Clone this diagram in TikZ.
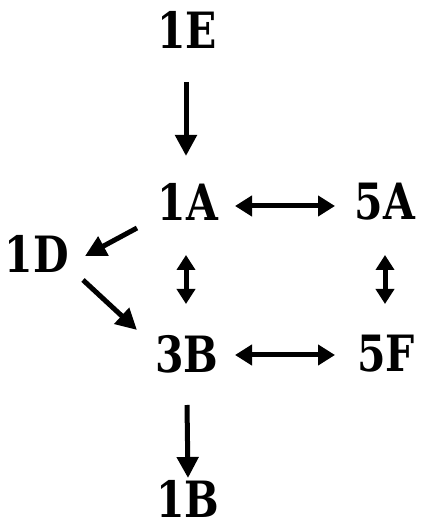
\documentclass[tikz,border=0pt]{standalone}
\usepackage{fontspec}
\setmainfont[FakeStretch=0.82]{DejaVu Serif}
\usetikzlibrary{arrows.meta}
\tikzset{
  lbl/.style={inner sep=0pt, font=\fontsize{50}{56}\selectfont\bfseries},
  arr/.style={line width=5pt, -{Triangle[length=21pt,width=21pt]}},
  darr/.style={line width=5pt, {Triangle[length=17pt,width=20pt]}-{Triangle[length=17pt,width=20pt]}},
  sarr/.style={line width=5pt, {Triangle[length=15pt,width=18pt]}-{Triangle[length=15pt,width=18pt]}},
}
\begin{document}
\begin{tikzpicture}[x=1pt,y=1pt]
\useasboundingbox (0,0) rectangle (422,529);
\node[lbl] (E) at (187,499) {1E};
\node[lbl] (A) at (188,327) {1A};
\node[lbl] (A5) at (385,327) {5A};
\node[lbl] (D) at (37,275) {1D};
\node[lbl] (B3) at (187,175) {3B};
\node[lbl] (F5) at (386,175) {5F};
\node[lbl] (B1) at (188,30) {1B};
\draw[arr] ([shift={(-1,-52)}]E.center) -- ([shift={(-2,46)}]A.center);
\draw[darr] ([shift={(47,-4)}]A.center) -- ([shift={(-50,-4)}]A5.center);
\draw[arr] ([shift={(-51,-26)}]A.center) -- ([shift={(48,-2)}]D.center);
\draw[arr] ([shift={(46,-26)}]D.center) -- ([shift={(-50,24)}]B3.center);
\draw[sarr] ([shift={(-2,-53)}]A.center) -- ([shift={(-1,50)}]B3.center);
\draw[sarr] ([shift={(0,-53)}]A5.center) -- ([shift={(-1,50)}]F5.center);
\draw[darr] ([shift={(48,-1)}]B3.center) -- ([shift={(-51,-1)}]F5.center);
\draw[arr] ([shift={(0,-51)}]B3.center) -- ([shift={(0,21)}]B1.center);
\end{tikzpicture}
\end{document}
